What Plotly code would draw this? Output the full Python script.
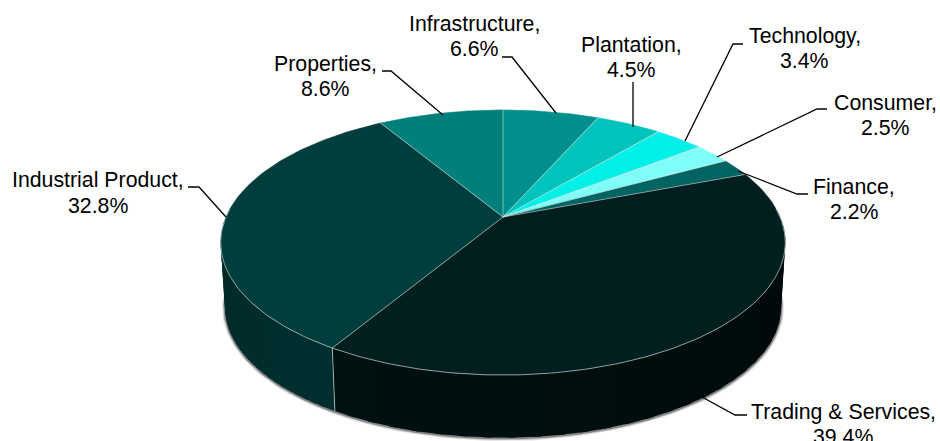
import numpy as np
import plotly.graph_objects as go

categories = ["Infrastructure", "Plantation", "Technology", "Consumer", "Finance",
              "Trading &amp; Services", "Industrial Product", "Properties"]
values = [6.6, 4.5, 3.4, 2.5, 2.2, 39.4, 32.8, 8.6]
top_colors = ["#008f8c", "#00c4bc", "#00efe6", "#7ffdf8", "#006462", "#001f1e", "#003d3d", "#007f7b"]
# wall colour at the start and at the end of each slice that shows a wall
wall_colors = {5: ((0, 8, 8), (0, 17, 17)), 6: ((0, 46, 46), (0, 40, 40))}

# placement of the labels and their leader lines (pixels of the layout)
label_xy = [(474, 24, 49), (631.5, 45, 70), (804.5, 36, 61), (885, 103, 128),
            (854, 187, 212), (843, 412, 437), (98, 180, 205.5), (325.5, 64, 89)]
leaders = [
    [(502, 57), (512, 57), (556, 113)],
    [(633, 82), (633, 127)],
    [(743, 44), (733, 44), (685, 141)],
    [(827, 109), (817, 109), (717, 157)],
    [(808, 194), (797, 194), (738, 171)],
    [(747, 415), (735, 415), (702, 397)],
    [(188, 187), (199, 187), (226, 217)],
    [(382, 71), (391, 71), (443, 115)],
]

# perspective disc
CX, CY, A, B, K = 503.0, 217.0, 277.0, 127.6, 0.1925
SHRINK, DEPTH = 0.985, 65.0
EDGE = "rgba(215,228,228,0.62)"


def rim(pct):
    t = np.asarray(pct, dtype=float) / 100 * 2 * np.pi
    u, v = np.sin(t), np.cos(t)
    d = 1 + K * v
    return CX + A * u / d, CY - B * v / d


def lower(x, y):
    return CX + (x - CX) * SHRINK, CY + (y - CY) * SHRINK + DEPTH


fig = go.Figure()
edges = np.cumsum([0] + values)


def line(x, y, color, width):
    fig.add_trace(go.Scatter(x=x, y=y, mode="lines", line=dict(color=color, width=width),
                             hoverinfo="skip", showlegend=False))


def poly(x, y, fill, width=0.6):
    fig.add_trace(go.Scatter(x=x, y=y, mode="lines", fill="toself", fillcolor=fill,
                             line=dict(color=fill, width=width),
                             hoverinfo="skip", showlegend=False))


# soft shadow round the wall
p = np.linspace(edges[5] - 3, edges[7] + 3, 240)
sx, sy = lower(*rim(p))
for w, alpha in ((6, 0.10), (4, 0.18), (2.5, 0.3)):
    line(sx, sy + 0.5, f"rgba(0,0,0,{alpha})", w)

# visible wall: every slice that faces the viewer, shaded in thin bands
for i, (c0, c1) in wall_colors.items():
    lo, hi = max(edges[i], 24.0), min(edges[i + 1], 76.0)
    stops = np.linspace(lo, hi, 31)
    for j in range(30):
        f = j / 29
        col = "rgb({:.0f},{:.0f},{:.0f})".format(*(c0[k] + (c1[k] - c0[k]) * f for k in range(3)))
        # each band overlaps the next one so that no seam shows
        p = np.linspace(stops[j], min(stops[j + 1] + 0.4, hi), 8)
        x, y = rim(p)
        xb, yb = lower(x, y)
        poly(np.r_[x, xb[::-1], x[0]], np.r_[y, yb[::-1], y[0]], col, 0)

# top face
for i in range(len(values)):
    p = np.linspace(edges[i], edges[i + 1], 100)
    x, y = rim(p)
    poly(np.r_[CX, x, CX], np.r_[CY, y, CY], top_colors[i])

# light seams: spokes, front rim, wall joint
for e in edges[:-1]:
    x, y = rim([e])
    line([CX, x[0]], [CY, y[0]], EDGE, 1)
x, y = rim(np.linspace(24, 76, 200))
line(x, y, EDGE, 1)
x0, y0 = rim([edges[6]])
x1, y1 = lower(x0, y0)
line([x0[0], x1[0]], [y0[0], y1[0]], EDGE, 1)

# leader lines
for pts in leaders:
    line([q[0] for q in pts], [q[1] for q in pts], "#000000", 1.3)

FONT = dict(family="Liberation Sans, Arial, sans-serif", size=21.3, color="#000000")
for name, val, (lx, y1_, y2_) in zip(categories, values, label_xy):
    fig.add_annotation(x=lx, y=y1_, text=f"{name},", showarrow=False, xanchor="center",
                       yanchor="middle", font=FONT)
    fig.add_annotation(x=lx, y=y2_, text=f"{val:.1f}%", showarrow=False, xanchor="center",
                       yanchor="middle", font=FONT)

fig.update_xaxes(range=[0, 940], visible=False, fixedrange=True)
fig.update_yaxes(range=[441, 0], visible=False, fixedrange=True)
fig.update_layout(width=940, height=441, margin=dict(l=0, r=0, t=0, b=0),
                  paper_bgcolor="#ffffff", plot_bgcolor="#ffffff", showlegend=False)
fig.write_html("out.html", config={"displayModeBar": False},
               post_script="document.body.style.margin='0';document.body.style.overflow='hidden';")
